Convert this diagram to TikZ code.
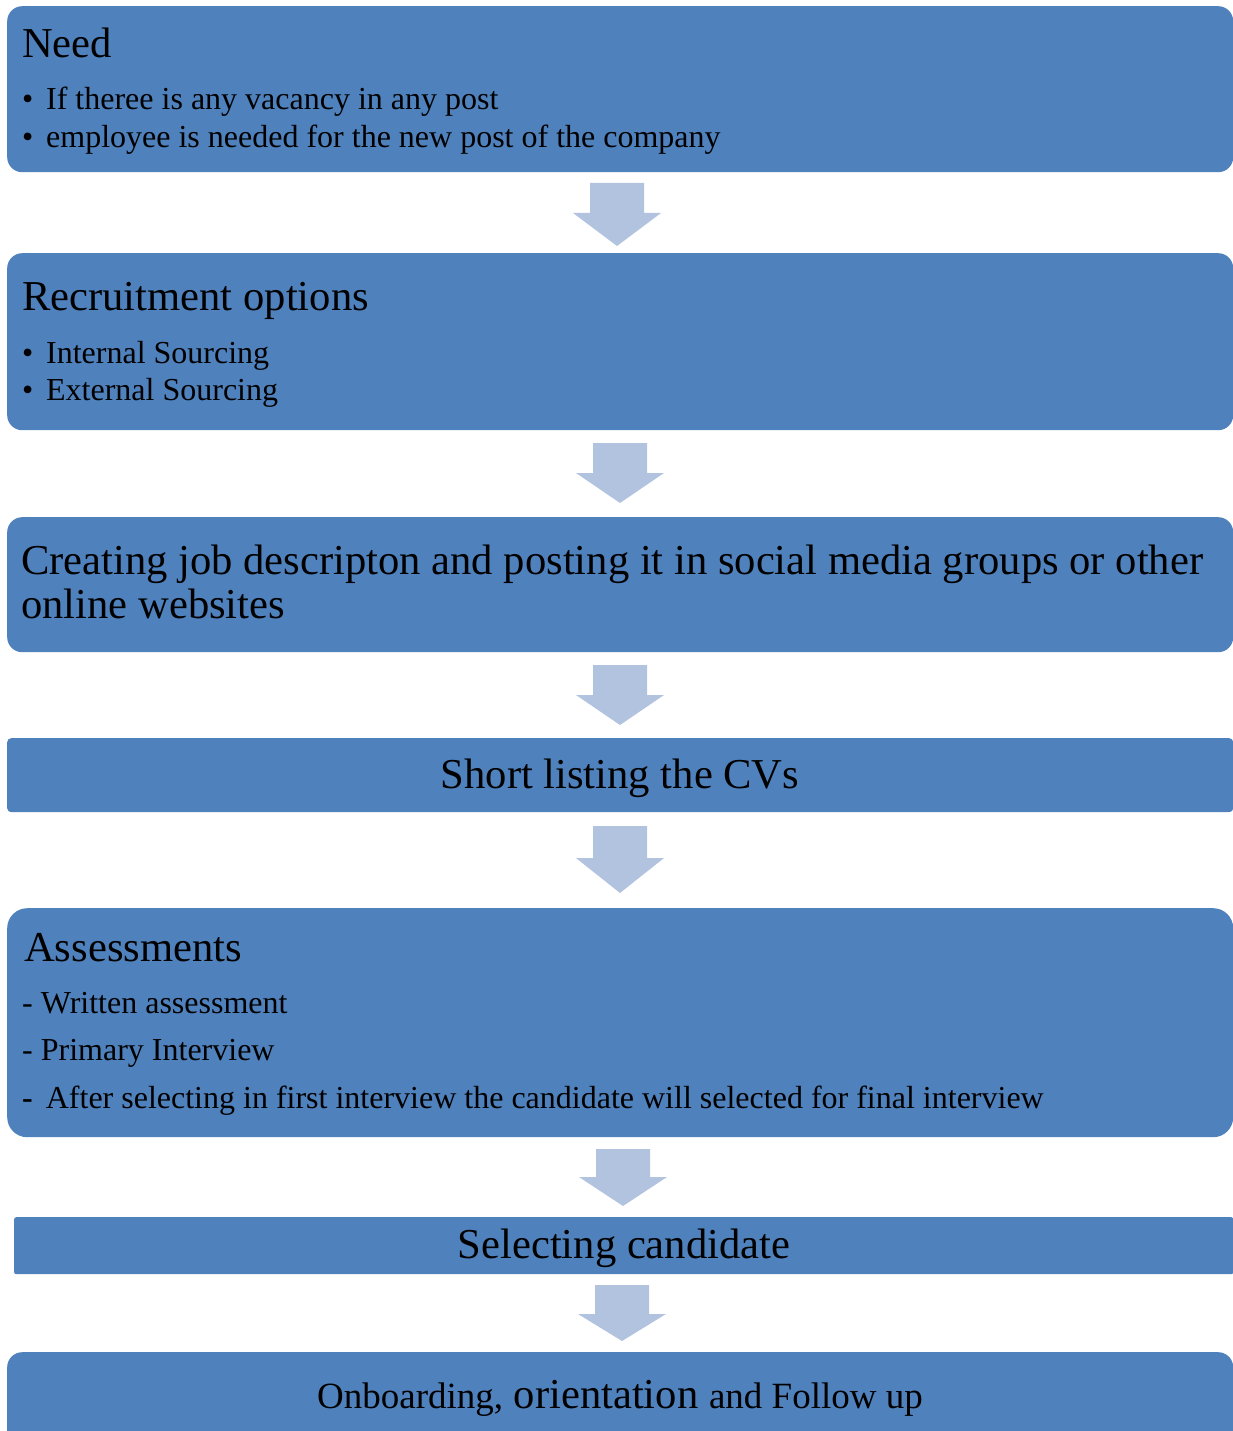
\documentclass[tikz,border=0pt]{standalone}
\usepackage{fontspec}
\setmainfont{Liberation Serif}
\definecolor{boxblue}{RGB}{79,129,189}
\definecolor{arrowblue}{RGB}{178,195,223}
\newcommand{\bigtext}{\fontsize{42.6}{50}\selectfont}
\newcommand{\smalltext}{\fontsize{32}{38}\selectfont}
\newcommand{\midtext}{\fontsize{37}{44}\selectfont}
% block arrow: centre x, top, start of head, tip
\newcommand{\flowarrow}[4]{%
  \fill[arrowblue] ({#1-27},#2) -- ({#1+27},#2) -- ({#1+27},#3) -- ({#1+44},#3)
    -- (#1,#4) -- ({#1-44},#3) -- ({#1-27},#3) -- cycle;}
\tikzset{
  stepbox/.style={fill=boxblue, draw=none, inner sep=0pt, anchor=north west},
  title/.style={inner sep=0pt, anchor=base west, font=\bigtext},
  item/.style={inner sep=0pt, anchor=base west, font=\smalltext},
  centred/.style={inner sep=0pt, anchor=base, font=\bigtext}
}
\begin{document}
\begin{tikzpicture}[x=1pt,y=-1pt]
  \useasboundingbox (0,0) rectangle (1233,1431);
  % Need
  \node[stepbox, rounded corners=15pt, minimum width=1226pt, minimum height=166pt] (need) at (7,6) {};
  \node[title] (needtitle) at (22,58) {Need};
  \node[item] (needa) at (22,110) {\makebox[24pt][l]{•}If theree is any vacancy in any post};
  \node[item] (needb) at (22,148) {\makebox[24pt][l]{•}employee is needed for the new post of the company};
  \flowarrow{617}{183}{213}{246}
  % Recruitment options
  \node[stepbox, rounded corners=15pt, minimum width=1226pt, minimum height=177pt] (options) at (7,253) {};
  \node[title] (optionstitle) at (22,310) {Recruitment options};
  \node[item] (optionsa) at (22,363) {\makebox[24pt][l]{•}Internal Sourcing};
  \node[item] (optionsb) at (22,400) {\makebox[24pt][l]{•}External Sourcing};
  \flowarrow{620}{443}{473}{503}
  % Job description
  \node[stepbox, rounded corners=15pt, minimum width=1226pt, minimum height=135pt] (posting) at (7,517) {};
  \node[title] (postinga) at (21,574) {Creating job descripton and posting it in social media groups or other};
  \node[title] (postingb) at (21,618) {online websites};
  \flowarrow{620}{665}{695}{725}
  % Short listing
  \node[stepbox, rounded corners=4pt, minimum width=1226pt, minimum height=74pt] (shortlist) at (7,738) {};
  \node[centred] (shortlisttext) at (620,788) {Short listing the CVs};
  \flowarrow{620}{826}{858}{893}
  % Assessments
  \node[stepbox, rounded corners=20pt, minimum width=1226pt, minimum height=229pt] (assess) at (7,908) {};
  \node[title] (assesstitle) at (24,961) {Assessments};
  \node[item] (assessa) at (22,1013) {- Written assessment};
  \node[item] (assessb) at (22,1060) {- Primary Interview};
  \node[item] (assessc) at (22,1108) {{\bfseries -}\hspace{13pt}After selecting in first interview the candidate will selected for final interview};
  \flowarrow{623}{1149}{1177}{1206}
  % Selecting candidate
  \node[stepbox, rounded corners=2pt, minimum width=1219pt, minimum height=57pt] (select) at (14,1217) {};
  \node[centred] (selecttext) at (624,1258) {Selecting candidate};
  \flowarrow{622}{1285}{1314}{1341}
  % Onboarding
  \node[stepbox, rounded corners=15pt, minimum width=1226pt, minimum height=100pt] (onboard) at (7,1352) {};
  \node[centred] (onboardtext) at (620,1408) {{\midtext Onboarding,} orientation {\midtext and Follow up}};
\end{tikzpicture}
\end{document}
